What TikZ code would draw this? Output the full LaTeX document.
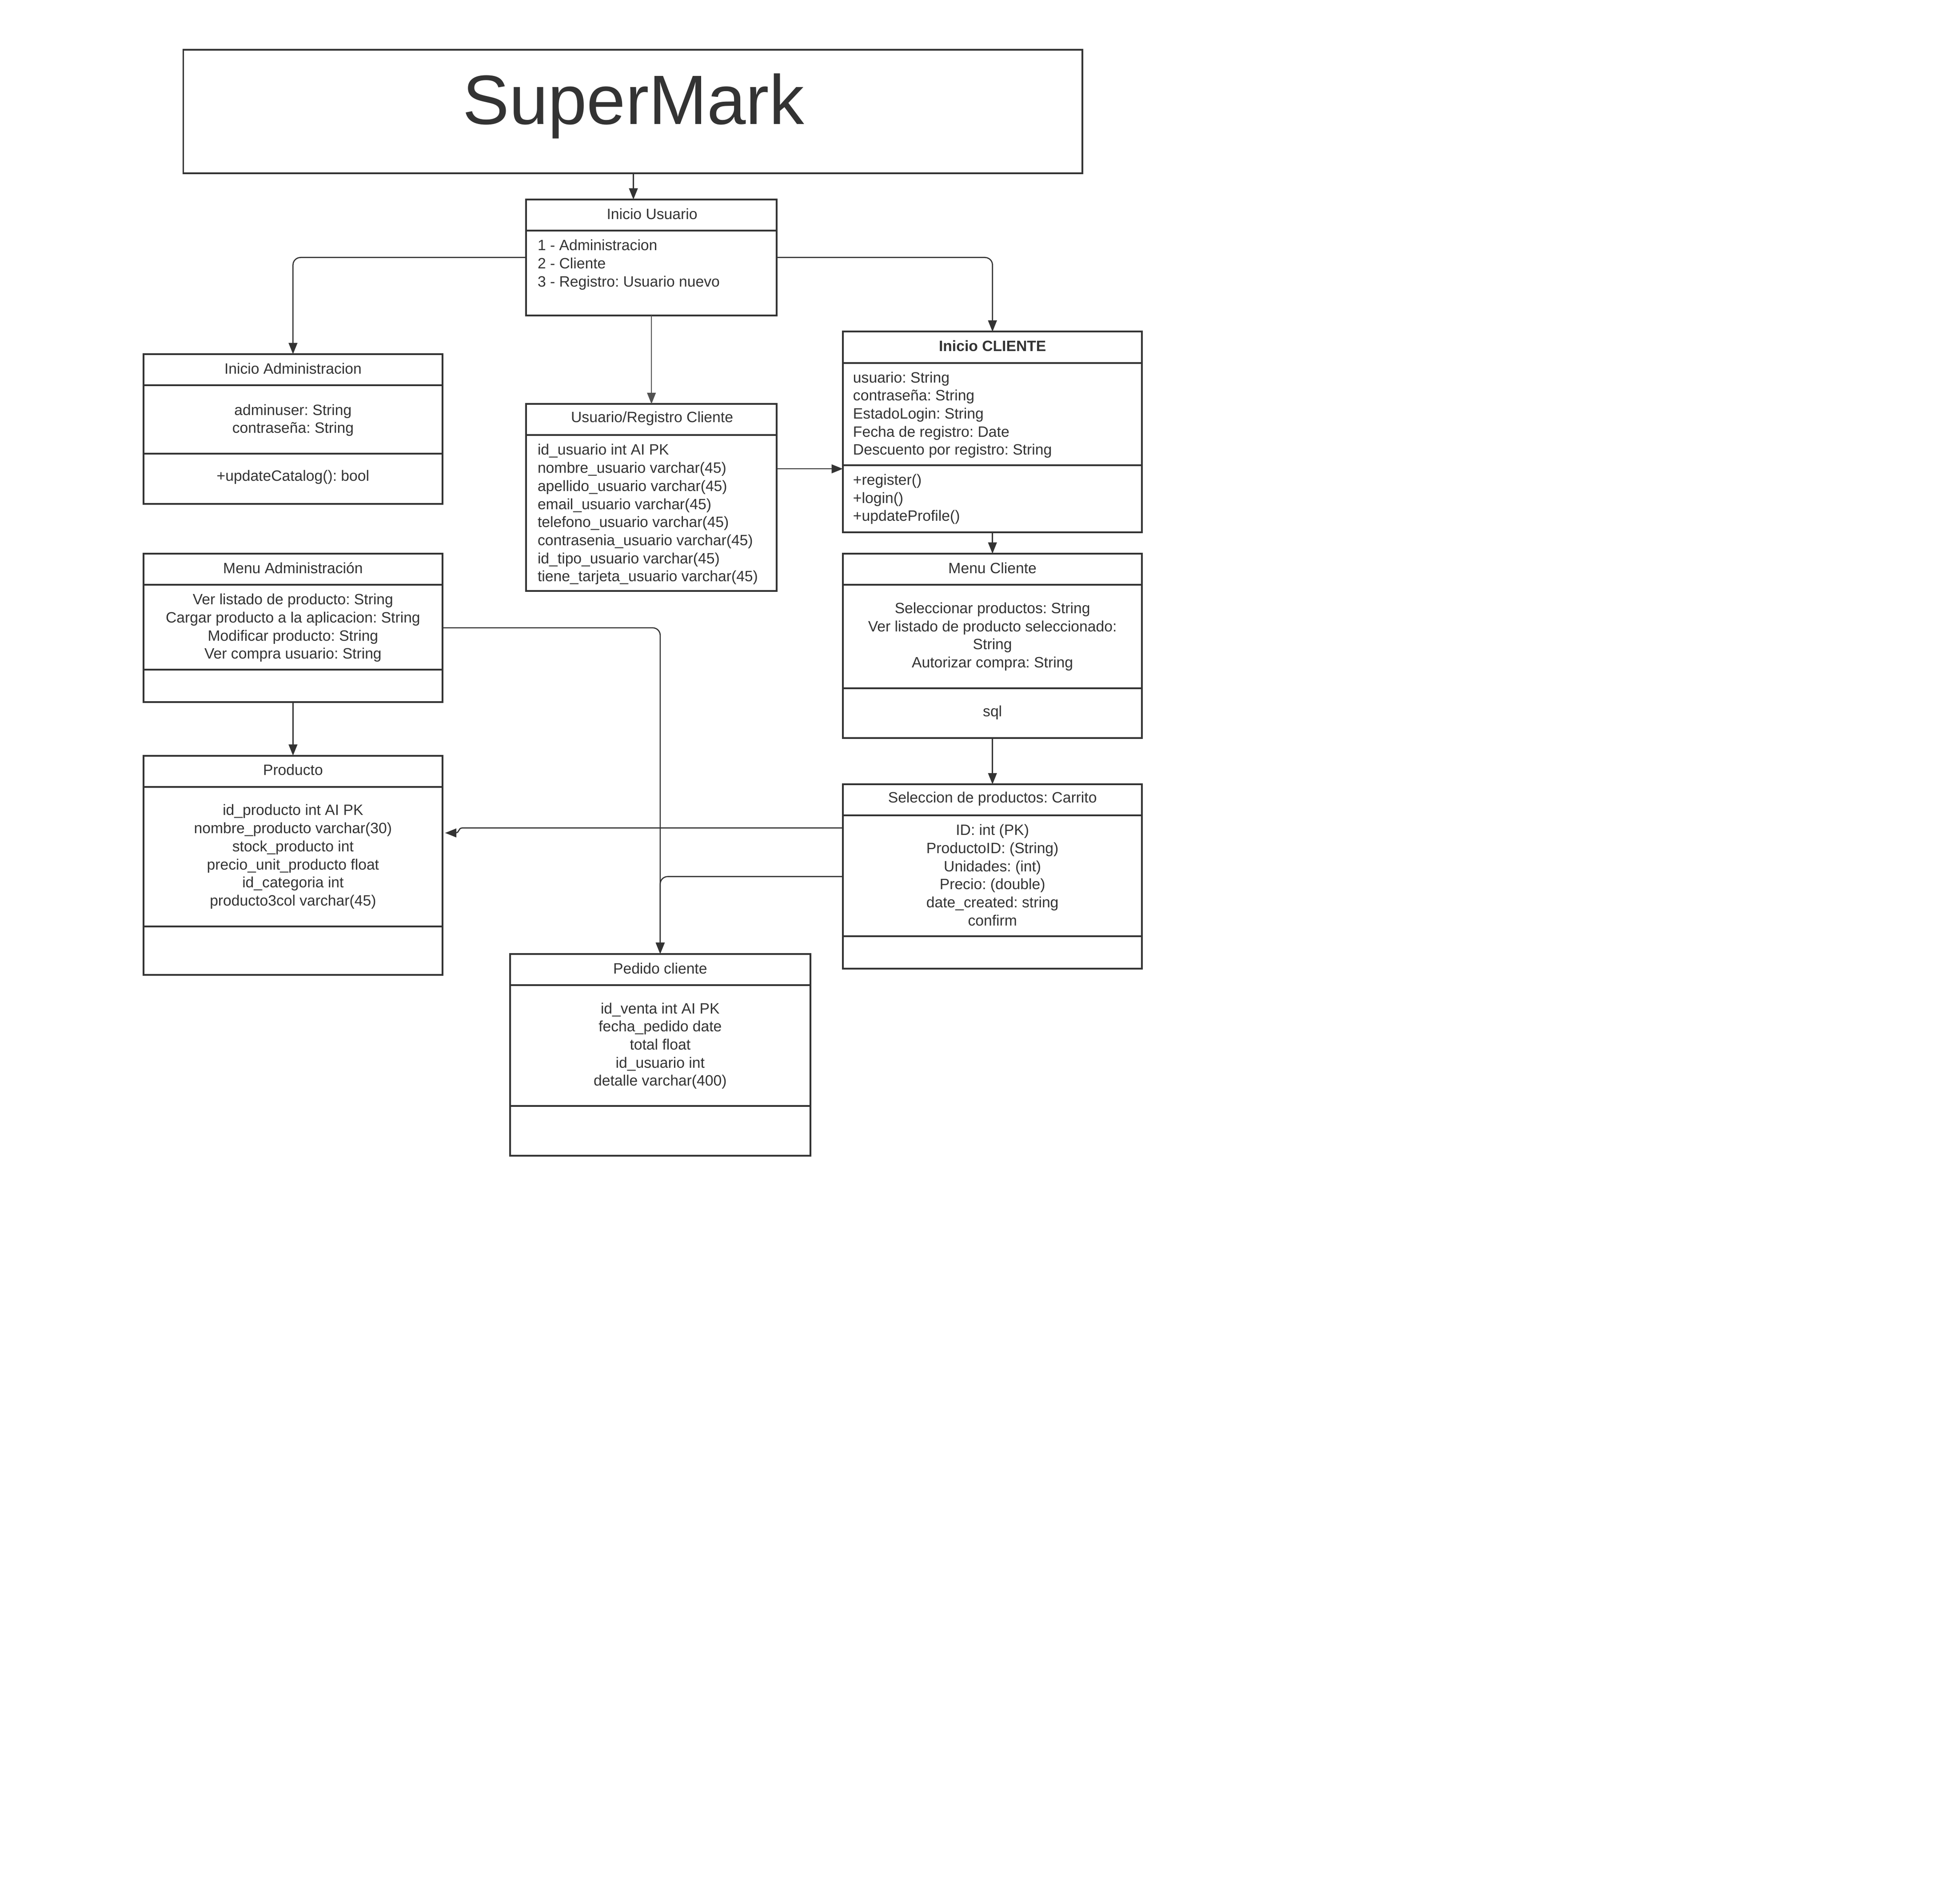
\documentclass[tikz,border=0pt]{standalone}
\usepackage{fontspec}
\setmainfont{Liberation Sans}
\usetikzlibrary{arrows.meta,calc}
\definecolor{ink}{HTML}{333333}
\frenchspacing
\begin{document}
\begin{tikzpicture}[x=1pt,y=-1pt,
  umlbox/.style={draw=ink,line width=1.4pt,inner sep=0pt,outer sep=0pt},
  divline/.style={draw=ink,line width=1.4pt},
  conn/.style={draw=ink,line width=0.9pt,-{Triangle[length=9pt,width=7pt]}},
  thinconn/.style={draw=ink!85,line width=0.6pt,-{Triangle[length=9pt,width=7pt]}},
  hdr/.style={text=ink,inner sep=0pt,font=\fontsize{12}{14.5}\selectfont},
  bodyc/.style={text=ink,inner sep=0pt,align=center,anchor=north,font=\fontsize{12}{14.5}\selectfont},
  bodyl/.style={text=ink,inner sep=0pt,align=left,anchor=north west,font=\fontsize{12}{14.5}\selectfont}]
\useasboundingbox[fill=white] (0,0) rectangle (1568,1527);

% Title
\node[umlbox,minimum width=721pt,minimum height=99pt] (title) at (507.5,89.5) {};
\node[text=ink,inner sep=0pt,font=\fontsize{56}{60}\selectfont] (titletext) at (508,85) {SuperMark};

% Inicio Usuario
\node[umlbox,minimum width=201pt,minimum height=93pt] (iu) at (522.5,206.5) {};
\draw[divline] (iu.west |- 0,185) -- (iu.east |- 0,185);
\node[hdr] (iuh) at (523,171.5) {Inicio Usuario};
\node[bodyl] (iub) at (431,192) {1 - Administracion\\2 - Cliente\\3 - Registro: Usuario nuevo};

% Inicio Administracion
\node[umlbox,minimum width=240pt,minimum height=120pt] (ia) at (235,344) {};
\draw[divline] (ia.west |- 0,309) -- (ia.east |- 0,309);
\draw[divline] (ia.west |- 0,364) -- (ia.east |- 0,364);
\node[hdr] (iah) at (235,295.5) {Inicio Administracion};
\node[bodyc] (iab) at (235,324) {adminuser: String\\contraseña: String};
\node[hdr] (iam) at (235,382.5) {+updateCatalog(): bool};

% Usuario/Registro Cliente
\node[umlbox,minimum width=201pt,minimum height=150pt] (ur) at (522.5,399) {};
\draw[divline] (ur.west |- 0,349) -- (ur.east |- 0,349);
\node[hdr] (urh) at (523,335.5) {Usuario/Registro Cliente};
\node[bodyl] (urb) at (431,356) {id\_usuario int AI PK\\nombre\_usuario varchar(45)\\apellido\_usuario varchar(45)\\email\_usuario varchar(45)\\telefono\_usuario varchar(45)\\contrasenia\_usuario varchar(45)\\id\_tipo\_usuario varchar(45)\\tiene\_tarjeta\_usuario varchar(45)};

% Inicio CLIENTE
\node[umlbox,minimum width=240pt,minimum height=161pt] (ic) at (796,346.5) {};
\draw[divline] (ic.west |- 0,291) -- (ic.east |- 0,291);
\draw[divline] (ic.west |- 0,373) -- (ic.east |- 0,373);
\node[hdr,font=\fontsize{12}{14.5}\selectfont\bfseries] (ich) at (796,277.5) {Inicio CLIENTE};
\node[bodyl] (icb) at (684,298) {usuario: String\\contraseña: String\\EstadoLogin: String\\Fecha de registro: Date\\Descuento por registro: String};
\node[bodyl] (icm) at (684,380) {+register()\\+login()\\+updateProfile()};

% Menu Administracion
\node[umlbox,minimum width=240pt,minimum height=119pt] (ma) at (235,503.5) {};
\draw[divline] (ma.west |- 0,469) -- (ma.east |- 0,469);
\draw[divline] (ma.west |- 0,537) -- (ma.east |- 0,537);
\node[hdr] (mah) at (235,455.5) {Menu Administración};
\node[bodyc] (mab) at (235,476) {Ver listado de producto: String\\Cargar producto a la aplicacion: String\\Modificar producto: String\\Ver compra usuario: String};

% Menu Cliente
\node[umlbox,minimum width=240pt,minimum height=148pt] (mc) at (796,518) {};
\draw[divline] (mc.west |- 0,469) -- (mc.east |- 0,469);
\draw[divline] (mc.west |- 0,552) -- (mc.east |- 0,552);
\node[hdr] (mch) at (796,455.5) {Menu Cliente};
\node[bodyc] (mcb) at (796,483) {Seleccionar productos: String\\Ver listado de producto seleccionado:\\String\\Autorizar compra: String};
\node[hdr] (mcm) at (796,571.5) {sql};

% Producto
\node[umlbox,minimum width=240pt,minimum height=176pt] (pr) at (235,694) {};
\draw[divline] (pr.west |- 0,631) -- (pr.east |- 0,631);
\draw[divline] (pr.west |- 0,743) -- (pr.east |- 0,743);
\node[hdr] (prh) at (235,617.5) {Producto};
\node[bodyc] (prb) at (235,645) {id\_producto int AI PK\\nombre\_producto varchar(30)\\stock\_producto int\\precio\_unit\_producto float\\id\_categoria int\\producto3col varchar(45)};

% Seleccion de productos: Carrito
\node[umlbox,minimum width=240pt,minimum height=148pt] (ca) at (796,703) {};
\draw[divline] (ca.west |- 0,654) -- (ca.east |- 0,654);
\draw[divline] (ca.west |- 0,751) -- (ca.east |- 0,751);
\node[hdr] (cah) at (796,640.5) {Seleccion de productos: Carrito};
\node[bodyc] (cab) at (796,661) {ID: int (PK)\\ProductoID: (String)\\Unidades: (int)\\Precio: (double)\\date\_created: string\\confirm};

% Pedido cliente
\node[umlbox,minimum width=241pt,minimum height=162pt] (pc) at (529.5,846) {};
\draw[divline] (pc.west |- 0,790) -- (pc.east |- 0,790);
\draw[divline] (pc.west |- 0,887) -- (pc.east |- 0,887);
\node[hdr] (pch) at (529.5,776.5) {Pedido cliente};
\node[bodyc] (pcb) at (529.5,804) {id\_venta int AI PK\\fecha\_pedido date\\total float\\id\_usuario int\\detalle varchar(400)};

% Connectors
\draw[conn] (title.south -| 508,0) -- (iu.north -| 508,0);
\draw[conn,rounded corners=6pt] (iu.west) -| (ia.north);
\draw[conn,rounded corners=6pt] (iu.east) -| (ic.north);
\draw[thinconn] (iu.south) -- (ur.north);
\draw[conn] ([yshift=23pt]ur.east) -- ([yshift=23pt]ur.east -| ic.west);
\draw[conn] (ic.south) -- (mc.north);
\draw[conn] (ma.south) -- (pr.north);
\draw[conn,rounded corners=6pt] (ma.east) -| (pc.north);
\draw[conn] (mc.south) -- (ca.north);
\draw[conn,rounded corners=6pt] (ca.west) -| (pc.north);
\draw[conn] ([yshift=39pt]ca.west) -- ($([yshift=39pt]ca.west -| pr.east)+(16,0)$)
  .. controls ($([yshift=39pt]ca.west -| pr.east)+(12,0)$) and ($([yshift=26pt]pr.east)+(14,0)$) .. ($([yshift=26pt]pr.east)+(10,0)$)
  -- ($([yshift=26pt]pr.east)+(2,0)$);
\end{tikzpicture}
\end{document}
